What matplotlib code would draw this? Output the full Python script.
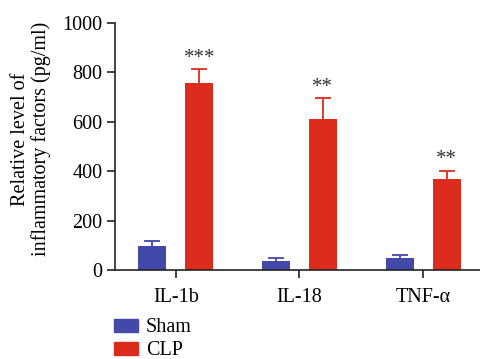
import numpy as np
import matplotlib
matplotlib.use('Agg')
import matplotlib.pyplot as plt
from matplotlib.patches import Patch

plt.rcParams['font.family'] = ['Liberation Serif', 'DejaVu Serif']

# Data
factors = ['IL-1b', 'IL-18', 'TNF-\u03b1']
sham_mean = [99, 38, 47]
sham_err = [20, 12, 14]
clp_mean = [757, 612, 370]
clp_err = [56, 84, 32]
stars = ['***', '**', '**']

blue = '#4349a8'
red = '#dc2c1e'

fig = plt.figure(figsize=(4.81, 3.59), dpi=100)
ax = fig.add_axes([0.239, 0.248, 0.761, 0.688])

x = np.arange(len(factors))
off = 0.19
w = 0.226

ax.bar(x - off, sham_mean, w, color=blue, zorder=2)
ax.bar(x + off, clp_mean, w, color=red, zorder=2)
# symmetric error bars drawn behind the bars, so only the upper half shows
ax.errorbar(x - off, sham_mean, yerr=sham_err, fmt='none',
            ecolor=blue, elinewidth=1.3, capsize=6, capthick=1.3, zorder=1)
ax.errorbar(x + off, clp_mean, yerr=clp_err, fmt='none',
            ecolor=red, elinewidth=1.3, capsize=6, capthick=1.3, zorder=1)

for xi, m, e, s in zip(x, clp_mean, clp_err, stars):
    ax.text(xi + off, m + e + 6, s, ha='center', va='bottom',
            fontsize=15, color='#333333')

ax.set_xlim(-0.492, 2.468)
ax.set_ylim(0, 1000)
ax.set_yticks([0, 200, 400, 600, 800, 1000])
ax.set_xticks(x)
ax.set_xticklabels(factors)
ax.tick_params(axis='both', labelsize=14.5, length=6, width=1.2, color='#222222')
ax.tick_params(axis='x', pad=7)
ax.tick_params(axis='y', pad=3)
ax.spines['top'].set_visible(False)
ax.spines['right'].set_visible(False)
for sp in ['left', 'bottom']:
    ax.spines[sp].set_linewidth(1.2)
    ax.spines[sp].set_color('#222222')

ax.set_ylabel('Relative level of\ninflammatory factors (pg/ml)', fontsize=14.5,
              linespacing=1.05)
ax.yaxis.set_label_coords(-0.175, 0.53)

handles = [Patch(color=blue, label='Sham'), Patch(color=red, label='CLP')]
fig.legend(handles=handles, loc='lower left', bbox_to_anchor=(0.22, -0.026),
           frameon=False, fontsize=14.5, handlelength=1.2, handleheight=0.6,
           handletextpad=0.4, labelspacing=0.2, borderaxespad=0)

fig.savefig('out.png', dpi=100)
